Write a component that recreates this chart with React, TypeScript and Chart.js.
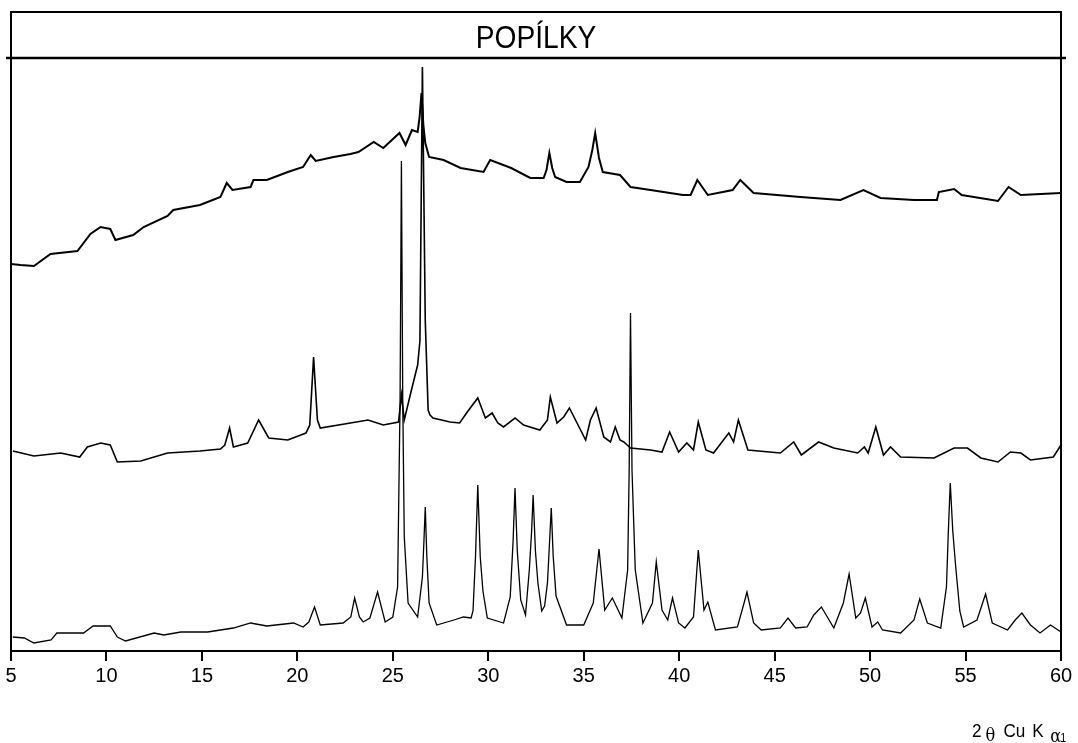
import React, { useEffect, useRef } from "react";
import { Chart, registerables } from "chart.js";

Chart.register(...registerables);

const titleText = "POPÍLKY";
const xTicks = [5, 10, 15, 20, 25, 30, 35, 40, 45, 50, 55, 60];

// top pattern: 2θ and intensity (arbitrary counts, with vertical offset)
const topTheta = [5.0, 5.5, 6.2, 7.07, 8.48, 9.16, 9.69, 10.2, 10.47, 11.4, 11.95, 13.2, 13.5, 14.9, 15.97, 16.3, 16.6, 17.55, 17.7, 18.4, 19.5, 20.3, 20.7, 20.96, 21.9, 22.78, 23.2, 24.0, 24.5, 25.35, 25.67, 26.0, 26.3, 26.4, 26.5, 26.6, 26.7, 26.9, 27.66, 28.55, 29.75, 30.1, 31.2, 32.2, 32.9, 33.05, 33.2, 33.35, 33.5, 34.1, 34.8, 35.25, 35.45, 35.6, 35.8, 36.0, 36.9, 37.45, 38.5, 40.2, 40.6, 40.95, 41.5, 42.8, 43.2, 43.9, 46.35, 48.45, 49.65, 50.55, 52.3, 53.5, 53.6, 54.4, 54.8, 56.7, 57.25, 57.9, 60.0];
const topCounts = [387, 386, 385, 397, 400, 417, 424, 422, 411, 416, 424, 435, 441, 446, 454, 468, 461, 464, 471, 471, 479, 484, 496, 490, 494, 497, 499, 509, 503, 518, 506, 521, 519, 533, 558, 526, 508, 494, 491, 483, 479, 491, 483, 473, 473, 481, 498, 483, 474, 469, 469, 484, 501, 518, 493, 479, 476, 464, 461, 456, 456, 471, 456, 461, 471, 458, 454, 451, 461, 453, 451, 451, 459, 462, 456, 450, 464, 456, 458];

// middle pattern
const midTheta = [5.1, 6.2, 7.6, 8.6, 9.0, 9.7, 10.2, 10.57, 11.8, 13.2, 14.9, 15.97, 16.2, 16.45, 16.65, 17.4, 17.97, 18.5, 19.5, 20.45, 20.65, 20.85, 21.05, 21.2, 22.78, 23.7, 24.5, 25.3, 25.45, 25.6, 25.95, 26.3, 26.42, 26.55, 26.7, 26.85, 26.95, 27.1, 28.0, 28.5, 28.9, 29.45, 29.85, 30.2, 30.5, 30.8, 31.4, 31.85, 32.7, 33.1, 33.25, 33.6, 33.95, 34.25, 34.65, 35.1, 35.35, 35.65, 36.05, 36.4, 36.65, 36.9, 37.1, 37.45, 38.5, 39.1, 39.5, 39.97, 40.4, 40.75, 41.0, 41.4, 41.8, 42.6, 42.85, 43.1, 43.6, 45.3, 46.0, 46.4, 47.3, 48.1, 49.35, 49.7, 49.9, 50.3, 50.7, 51.07, 51.6, 53.35, 54.4, 55.1, 55.8, 56.7, 57.35, 57.9, 58.4, 59.6, 60.0];
const midCounts = [200, 195, 198, 194, 204, 208, 206, 189, 190, 198, 200, 202, 206, 223, 204, 208, 231, 213, 211, 218, 226, 294, 231, 223, 228, 231, 226, 229, 256, 231, 259, 286, 310, 584, 330, 241, 236, 233, 229, 228, 239, 253, 233, 238, 228, 224, 233, 226, 221, 231, 254, 228, 234, 243, 228, 211, 231, 243, 214, 209, 224, 211, 209, 203, 201, 199, 219, 199, 208, 201, 229, 201, 198, 218, 209, 231, 201, 198, 209, 196, 209, 203, 198, 204, 198, 224, 196, 204, 194, 193, 203, 203, 193, 189, 199, 198, 191, 194, 206];

// bottom pattern
const botTheta = [5.1, 5.7, 6.2, 7.1, 7.4, 8.8, 9.3, 10.2, 10.57, 11.0, 12.5, 13.0, 13.9, 15.3, 16.65, 17.55, 18.4, 19.8, 20.3, 20.6, 20.9, 21.2, 22.4, 22.8, 23.0, 23.25, 23.45, 23.8, 24.2, 24.6, 25.0, 25.25, 25.38, 25.45, 25.52, 25.6, 25.8, 26.3, 26.55, 26.63, 26.7, 26.78, 26.9, 27.3, 28.2, 28.7, 29.1, 29.2, 29.33, 29.45, 29.58, 29.72, 29.95, 30.8, 31.15, 31.3, 31.4, 31.52, 31.7, 31.95, 32.15, 32.27, 32.35, 32.47, 32.6, 32.8, 32.95, 33.1, 33.2, 33.3, 33.4, 33.55, 34.1, 35.0, 35.5, 35.8, 36.1, 36.5, 36.75, 37.0, 37.3, 37.38, 37.45, 37.53, 37.7, 38.1, 38.6, 38.8, 39.1, 39.4, 39.65, 39.97, 40.3, 40.75, 41.0, 41.3, 41.5, 41.9, 43.05, 43.4, 43.55, 43.9, 44.3, 45.3, 45.7, 46.1, 46.7, 47.05, 47.45, 48.1, 48.6, 48.9, 49.25, 49.5, 49.75, 50.1, 50.4, 50.65, 51.6, 52.3, 52.6, 53.0, 53.7, 54.0, 54.1, 54.2, 54.33, 54.5, 54.7, 54.9, 55.6, 56.05, 56.4, 57.2, 57.6, 57.95, 58.4, 58.9, 59.45, 60.0];
const botCounts = [14, 13, 8, 11, 18, 18, 25, 25, 14, 10, 18, 16, 19, 19, 23, 28, 25, 28, 24, 29, 44, 26, 28, 34, 53, 34, 29, 33, 59, 29, 34, 64, 250, 490, 250, 114, 48, 34, 74, 110, 144, 95, 48, 26, 31, 34, 33, 40, 94, 166, 94, 60, 33, 28, 54, 110, 163, 100, 51, 36, 81, 120, 156, 100, 68, 40, 45, 68, 105, 143, 95, 55, 26, 26, 48, 102, 41, 53, 43, 33, 81, 180, 338, 180, 81, 28, 48, 89, 41, 31, 53, 28, 23, 34, 101, 41, 49, 21, 24, 48, 59, 28, 21, 23, 33, 23, 24, 36, 44, 23, 48, 77, 33, 38, 53, 24, 29, 21, 18, 31, 52, 28, 23, 64, 120, 168, 120, 81, 40, 24, 31, 57, 28, 21, 31, 38, 26, 18, 26, 19];

const FONT = '"Liberation Sans", Arial, sans-serif';

export default function App() {
  const ref = useRef<HTMLCanvasElement>(null);

  useEffect(() => {
    const toPts = (xs: number[], ys: number[]) => xs.map((x, i) => ({ x, y: ys[i] }));

    const frame = {
      id: "frame",
      afterDraw(chart: any) {
        const ctx = chart.ctx as CanvasRenderingContext2D;
        const { left, right, bottom } = chart.chartArea;
        ctx.save();
        ctx.strokeStyle = "#000";
        ctx.lineWidth = 2;
        ctx.beginPath();
        ctx.moveTo(left, bottom);
        ctx.lineTo(left, 12);
        ctx.lineTo(right, 12);
        ctx.lineTo(right, bottom);
        ctx.stroke();
        ctx.lineWidth = 2.5;
        ctx.beginPath();
        ctx.moveTo(left - 5, 58);
        ctx.lineTo(right + 5, 58);
        ctx.stroke();
        // title (narrow face)
        ctx.fillStyle = "#000";
        ctx.font = `32px ${FONT}`;
        ctx.textAlign = "center";
        ctx.textBaseline = "alphabetic";
        ctx.save();
        ctx.translate((left + right) / 2, 48);
        ctx.scale(0.88, 1);
        ctx.fillText(titleText, 0, 0);
        ctx.restore();
        // axis title
        ctx.textAlign = "left";
        ctx.save();
        ctx.translate(972, 737);
        ctx.scale(0.9, 1);
        ctx.font = `19px ${FONT}`;
        ctx.fillText("2", 0, 0);
        ctx.font = `18px "DejaVu Serif", serif`;
        ctx.fillText("θ", 15, 4);
        ctx.font = `19px ${FONT}`;
        ctx.fillText("Cu", 35, 0);
        ctx.fillText("K", 67, 0);
        ctx.font = `18px "DejaVu Serif", serif`;
        ctx.fillText("α", 87, 5);
        ctx.font = `12px ${FONT}`;
        ctx.fillText("1", 98, 5);
        ctx.restore();
        ctx.restore();
      },
    };

    const chart = new Chart(ref.current as HTMLCanvasElement, {
      type: "line",
      data: {
        datasets: [
          { data: toPts(topTheta, topCounts), borderColor: "#000", borderWidth: 2, pointRadius: 0, tension: 0 },
          { data: toPts(midTheta, midCounts), borderColor: "#000", borderWidth: 1.6, pointRadius: 0, tension: 0 },
          { data: toPts(botTheta, botCounts), borderColor: "#000", borderWidth: 1.3, pointRadius: 0, tension: 0 },
        ],
      },
      options: {
        animation: false,
        responsive: false,
        layout: { padding: { left: 11, right: 17, top: 58, bottom: 0 } },
        plugins: { legend: { display: false }, tooltip: { enabled: false }, title: { display: false } },
        scales: {
          x: {
            type: "linear",
            min: 5,
            max: 60,
            afterBuildTicks: (s: any) => {
              s.ticks = xTicks.map((v) => ({ value: v }));
            },
            afterFit: (s: any) => {
              s.height = 92;
            },
            grid: { drawOnChartArea: false, drawTicks: true, tickLength: 10, color: "#000", lineWidth: 2 },
            border: { display: true, color: "#000", width: 2 },
            ticks: { color: "#000", font: { family: FONT, size: 20 }, padding: 3, maxRotation: 0, autoSkip: false },
          },
          y: { display: false, min: 0, max: 593 },
        },
      },
      plugins: [frame],
    });
    return () => chart.destroy();
  }, []);

  return (
    <div style={{ position: "absolute", left: 0, top: 0, width: 1078, height: 743, background: "#fff" }}>
      <canvas ref={ref} width={1078} height={743} style={{ width: 1078, height: 743, display: "block" }} />
    </div>
  );
}
